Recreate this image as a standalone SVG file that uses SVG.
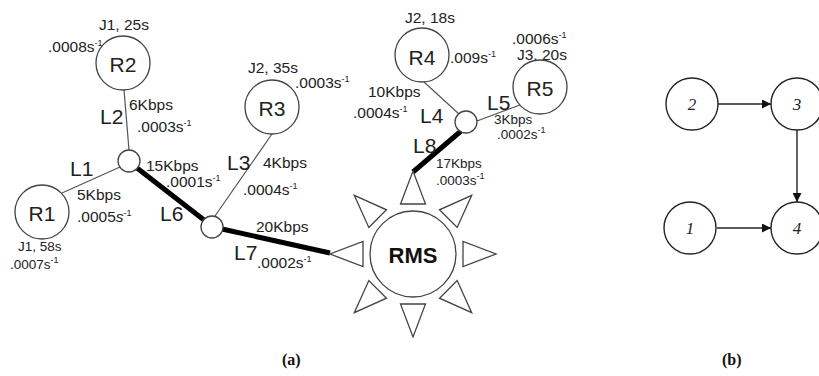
<svg xmlns="http://www.w3.org/2000/svg" width="819" height="376" viewBox="0 0 819 376">
<style>
.t{font-family:"Liberation Sans",Arial,sans-serif;font-size:15.5px;fill:#222}
.s{font-size:13.5px}
.lb{font-family:"Liberation Sans",Arial,sans-serif;font-size:21px;fill:#222}
.nl{font-family:"Liberation Sans",Arial,sans-serif;font-size:21px;fill:#222;text-anchor:middle;dominant-baseline:central}
.nd{fill:#fff;stroke:#444;stroke-width:1.3}
.thin{stroke:#555;stroke-width:1.2;fill:none}
.thick{stroke:#000;stroke-width:5;fill:none}
.tri{fill:#fff;stroke:#444;stroke-width:1.3}
.sup{font-size:9px}
.bn{fill:#fff;stroke:#222;stroke-width:1.4}
.bl{font-family:"Liberation Serif","Times New Roman",serif;font-style:italic;font-size:17px;fill:#222;text-anchor:middle;dominant-baseline:central}
.arr{stroke:#222;stroke-width:1.4;fill:none}
.cap{font-family:"Liberation Serif","Times New Roman",serif;font-weight:bold;font-size:16px;fill:#111}
</style>
<defs>
<polygon id="tr" points="-12.5,-50 12.5,-50 0,-83" class="tri"/>
<marker id="ah" viewBox="0 0 10 10" refX="10" refY="5" markerWidth="9" markerHeight="9" markerUnits="userSpaceOnUse" orient="auto">
<path d="M0,0 L10,5 L0,10 z" fill="#111"/>
</marker>
</defs>

<g id="connectors">
<line class="thin" x1="124" y1="90" x2="129" y2="150"/>
<line class="thin" x1="62" y1="193" x2="120" y2="167"/>
<line class="thick" x1="137" y1="168" x2="204" y2="220"/>
<line class="thin" x1="215" y1="216" x2="272" y2="134"/>
<line class="thick" x1="222" y1="229" x2="330" y2="253"/>
<line class="thin" x1="424" y1="82" x2="459" y2="114"/>
<line class="thin" x1="477" y1="121" x2="520" y2="105"/>
<line class="thick" x1="461" y1="131" x2="413" y2="172"/>
<line class="arr" x1="718" y1="104" x2="771" y2="104" marker-end="url(#ah)"/>
<line class="arr" x1="797" y1="130" x2="797" y2="202" marker-end="url(#ah)"/>
<line class="arr" x1="717" y1="228" x2="771" y2="228" marker-end="url(#ah)"/>
</g>

<g id="labels">
<text class="t" x="99" y="30">J1, 25s</text>
<text class="t" x="48" y="52">.0008s<tspan class="sup" dy="-6">-1</tspan></text>
<text class="lb" x="100" y="124">L2</text>
<text class="t" x="129" y="110">6Kbps</text>
<text class="t" x="137" y="132">.0003s<tspan class="sup" dy="-6">-1</tspan></text>
<text class="lb" x="70" y="176">L1</text>
<text class="t" x="77" y="200">5Kbps</text>
<text class="t" x="77" y="222">.0005<tspan font-style="italic">s</tspan><tspan class="sup" dy="-6">-1</tspan></text>
<text class="t s" x="18" y="251">J1, 58s</text>
<text class="t s" x="10" y="269">.0007s<tspan class="sup" dy="-6">-1</tspan></text>
<text class="t" x="146" y="171">15Kbps</text>
<text class="t" x="166" y="187">.0001s<tspan class="sup" dy="-6">-1</tspan></text>
<text class="lb" x="160" y="221">L6</text>
<text class="t" x="248" y="73">J2, 35s</text>
<text class="t" x="295" y="88">.0003s<tspan class="sup" dy="-6">-1</tspan></text>
<text class="lb" x="227" y="170">L3</text>
<text class="t" x="263" y="168">4Kbps</text>
<text class="t" x="243" y="195">.0004s<tspan class="sup" dy="-6">-1</tspan></text>
<text class="t" x="256" y="232">20Kbps</text>
<text class="lb" x="234" y="260">L7</text>
<text class="t" x="257" y="268">.0002s<tspan class="sup" dy="-6">-1</tspan></text>
<text class="t" x="368" y="97">10Kbps</text>
<text class="t" x="353" y="118">.0004s<tspan class="sup" dy="-6">-1</tspan></text>
<text class="t" x="405" y="23">J2, 18s</text>
<text class="t" x="450" y="63">.009s<tspan class="sup" dy="-6">-1</tspan></text>
<text class="t" x="512" y="44">.0006s<tspan class="sup" dy="-6">-1</tspan></text>
<text class="t" x="517" y="60">J3, 20s</text>
<text class="lb" x="420" y="123">L4</text>
<text class="lb" x="487" y="110">L5</text>
<text class="t s" x="494" y="124">3Kbps</text>
<text class="t s" x="497" y="139">.0002s<tspan class="sup" dy="-6">-1</tspan></text>
<text class="lb" x="413" y="153">L8</text>
<text class="t s" x="436" y="168">17Kbps</text>
<text class="t s" x="436" y="185">.0003s<tspan class="sup" dy="-6">-1</tspan></text>
<text class="cap" x="282" y="365">(a)</text>
<text class="cap" x="722" y="365">(b)</text>
</g>

<g id="R2"><circle class="nd" cx="123" cy="63" r="27"/><text class="nl" x="123" y="64">R2</text></g>
<g id="R1"><circle class="nd" cx="42" cy="212" r="27"/><text class="nl" x="42" y="213">R1</text></g>
<g id="R3"><circle class="nd" cx="272" cy="107" r="27"/><text class="nl" x="272" y="108">R3</text></g>
<g id="R4"><circle class="nd" cx="422" cy="55" r="27"/><text class="nl" x="422" y="57">R4</text></g>
<g id="R5"><circle class="nd" cx="540" cy="87" r="27"/><text class="nl" x="540" y="88">R5</text></g>
<g id="junction1"><circle class="nd" cx="129" cy="161" r="11"/></g>
<g id="junction2"><circle class="nd" cx="212" cy="227" r="11"/></g>
<g id="junction3"><circle class="nd" cx="466" cy="122" r="11"/></g>
<g id="RMS">
<circle class="nd" cx="413" cy="254" r="43"/>
<text x="413" y="255" text-anchor="middle" dominant-baseline="central" font-family="Liberation Sans,Arial,sans-serif" font-weight="bold" font-size="22" fill="#111">RMS</text>
<g transform="translate(413,254)">
<use href="#tr"/>
<use href="#tr" transform="rotate(45)"/>
<use href="#tr" transform="rotate(90)"/>
<use href="#tr" transform="rotate(135)"/>
<use href="#tr" transform="rotate(180)"/>
<use href="#tr" transform="rotate(225)"/>
<use href="#tr" transform="rotate(270)"/>
<use href="#tr" transform="rotate(315)"/>
</g>
</g>

<g id="n2"><circle class="bn" cx="692" cy="104" r="26"/><text class="bl" x="692" y="104">2</text></g>
<g id="n3"><circle class="bn" cx="797" cy="104" r="26"/><text class="bl" x="797" y="104">3</text></g>
<g id="n1"><circle class="bn" cx="690" cy="228" r="26"/><text class="bl" x="690" y="228">1</text></g>
<g id="n4"><circle class="bn" cx="797" cy="228" r="26"/><text class="bl" x="797" y="228">4</text></g>
</svg>
